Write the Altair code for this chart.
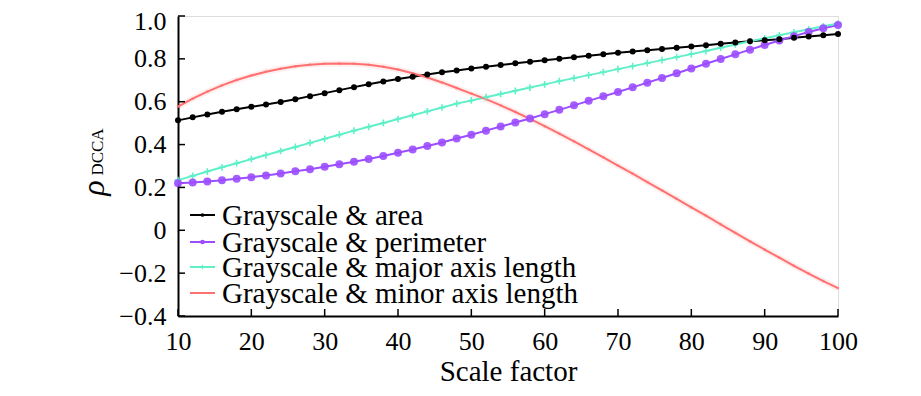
import altair as alt
import pandas as pd

# ---- data ----
scale_factor = list(range(10, 101, 2))

area = [0.513, 0.527, 0.540, 0.553, 0.565, 0.576, 0.587, 0.599, 0.612, 0.626,
        0.640, 0.654, 0.668, 0.681, 0.694, 0.706, 0.717, 0.727, 0.737, 0.746,
        0.755, 0.763, 0.771, 0.779, 0.786, 0.793, 0.800, 0.807, 0.814, 0.821,
        0.828, 0.834, 0.840, 0.846, 0.852, 0.858, 0.864, 0.870, 0.876, 0.882,
        0.887, 0.892, 0.898, 0.904, 0.910, 0.916]

perimeter = [0.219, 0.223, 0.228, 0.234, 0.241, 0.248, 0.256, 0.265, 0.275, 0.285,
             0.296, 0.308, 0.320, 0.333, 0.347, 0.362, 0.377, 0.393, 0.410, 0.428,
             0.446, 0.465, 0.484, 0.503, 0.522, 0.542, 0.562, 0.583, 0.604, 0.625,
             0.645, 0.667, 0.689, 0.711, 0.733, 0.755, 0.777, 0.799, 0.821, 0.843,
             0.865, 0.886, 0.906, 0.925, 0.943, 0.958]

major_axis = [0.234, 0.254, 0.274, 0.294, 0.313, 0.332, 0.351, 0.370, 0.389, 0.408,
              0.427, 0.446, 0.465, 0.483, 0.501, 0.519, 0.537, 0.555, 0.573, 0.591,
              0.606, 0.621, 0.636, 0.651, 0.666, 0.681, 0.696, 0.710, 0.724, 0.738,
              0.752, 0.766, 0.780, 0.794, 0.808, 0.822, 0.837, 0.852, 0.867, 0.882,
              0.896, 0.910, 0.924, 0.938, 0.952, 0.965]

minor_axis = [0.577, 0.614, 0.647, 0.676, 0.701, 0.722, 0.740, 0.754, 0.765, 0.773,
              0.777, 0.778, 0.777, 0.772, 0.763, 0.750, 0.733, 0.713, 0.690, 0.664,
              0.638, 0.612, 0.583, 0.552, 0.520, 0.486, 0.451, 0.415, 0.378, 0.340,
              0.302, 0.264, 0.225, 0.186, 0.147, 0.107, 0.068, 0.028, -0.012, -0.052,
              -0.090, -0.128, -0.166, -0.202, -0.237, -0.270]

series_names = ["Grayscale & area", "Grayscale & perimeter",
                "Grayscale & major axis length", "Grayscale & minor axis length"]
series_colors = ["#000000", "#9b4dff", "#5ff0c8", "#ff7070"]

x_ticks = [10, 20, 30, 40, 50, 60, 70, 80, 90, 100]
y_ticks = [-0.4, -0.2, 0, 0.2, 0.4, 0.6, 0.8, 1.0]

# ---- tables ----
rows = []
for name, vals in zip(series_names, [area, perimeter, major_axis, minor_axis]):
    for s, v in zip(scale_factor, vals):
        rows.append({"scale": s, "rho": v, "series": name})
df = pd.DataFrame(rows)

FONT = "Liberation Serif"

X = alt.X("scale:Q",
          scale=alt.Scale(domain=[10, 100], nice=False, zero=False),
          axis=alt.Axis(values=x_ticks, title="Scale factor", ticks=False,
                        labelFont=FONT, labelFontSize=26, labelColor="black",
                        labelPadding=12, labelFlush=False,
                        titleFont=FONT, titleFontSize=29, titleFontWeight="normal",
                        titleColor="black", titlePadding=3,
                        domainColor="black", domainWidth=2, grid=False))
Y = alt.Y("rho:Q",
          scale=alt.Scale(domain=[-0.4, 1.0], nice=False, zero=False),
          axis=alt.Axis(values=y_ticks, title=None, ticks=False,
                        labelExpr="datum.value == 0 ? '0' : replace(format(datum.value, '.1f'), '-', '\u2212')",
                        labelFont=FONT, labelFontSize=26, labelColor="black",
                        labelPadding=12, labelFlush=False,
                        labelOffset={"condition": {"test": "datum.value == 1", "value": 5}, "value": 0},
                        domainColor="black", domainWidth=2, grid=False))

color_enc = alt.Color("series:N",
                      scale=alt.Scale(domain=series_names, range=series_colors),
                      legend=None)

base = alt.Chart(df)

red_halo = base.transform_filter(
    alt.datum.series == series_names[3]
).mark_line(strokeWidth=6, opacity=0.12, color=series_colors[3]).encode(x=X, y=Y)

lines = base.mark_line(strokeWidth=2).encode(
    x=X, y=Y, color=color_enc,
    order=alt.Order("scale:Q"))

red_pts = base.transform_filter(alt.datum.series == series_names[3]).mark_point(
    shape="square", filled=True, size=6, color=series_colors[3], opacity=0.6
).encode(x=X, y=Y)

cyan_pts = base.transform_filter(alt.datum.series == series_names[2]).mark_point(
    shape="M-1,0L1,0M0,-1L0,1", filled=False, size=45, strokeWidth=1.6,
    color=series_colors[2], opacity=1
).encode(x=X, y=Y)

purple_pts = base.transform_filter(alt.datum.series == series_names[1]).mark_point(
    shape="circle", filled=True, size=64, color=series_colors[1], opacity=0.9
).encode(x=X, y=Y)

black_pts = base.transform_filter(alt.datum.series == series_names[0]).mark_point(
    shape="circle", filled=True, size=36, color="black", opacity=1
).encode(x=X, y=Y)

# inward tick marks
xtick_df = pd.DataFrame({"scale": x_ticks})
ytick_df = pd.DataFrame({"rho": y_ticks})
xticks = alt.Chart(xtick_df).mark_rule(color="black", strokeWidth=1.5).encode(
    x=X, y=alt.value(300), y2=alt.value(293))
yticks = alt.Chart(ytick_df).mark_rule(color="black", strokeWidth=1.5).encode(
    y=Y, x=alt.value(0), x2=alt.value(7))

# y-axis title: rho with subscript DCCA
rho_txt = alt.Chart(pd.DataFrame({"t": ["\u03c1"]})).mark_text(
    font=FONT, fontStyle="italic", fontSize=32, angle=270,
    align="center", baseline="middle", color="black"
).encode(x=alt.value(-84), y=alt.value(172), text="t:N")
sub_txt = alt.Chart(pd.DataFrame({"t": ["DCCA"]})).mark_text(
    font=FONT, fontSize=17, angle=270,
    align="center", baseline="middle", color="black"
).encode(x=alt.value(-80), y=alt.value(136), text="t:N")

# hand-built legend (inside the plot, lower left)
legend_layers = []
legend_marker = [
    dict(shape="circle", filled=True, size=14),
    dict(shape="circle", filled=True, size=22),
    dict(shape="M-1,0L1,0M0,-1L0,1", filled=False, size=20, strokeWidth=1.2),
    dict(shape="square", filled=True, size=4),
]
row_y = [199, 226, 251, 277]
for i, name in enumerate(series_names):
    ldf = pd.DataFrame({"t": [name]})
    legend_layers.append(
        alt.Chart(ldf).mark_rule(color=series_colors[i], strokeWidth=2).encode(
            x=alt.value(12), x2=alt.value(37), y=alt.value(row_y[i])))
    legend_layers.append(
        alt.Chart(ldf).mark_point(color=series_colors[i], opacity=1,
                                  **legend_marker[i]).encode(
            x=alt.value(24.5), y=alt.value(row_y[i])))
    legend_layers.append(
        alt.Chart(ldf).mark_text(font=FONT, fontSize=29, color="black",
                                 align="left", baseline="middle").encode(
            x=alt.value(44), y=alt.value(row_y[i] + 1), text="t:N"))

chart = alt.layer(
    red_halo, lines, red_pts, cyan_pts, purple_pts, black_pts,
    xticks, yticks, rho_txt, sub_txt, *legend_layers
).properties(
    width=660, height=300,
    autosize=alt.AutoSizeParams(type="none"),
    padding={"left": 170, "top": 8, "right": 75, "bottom": 72},
).configure_view(
    stroke="black", strokeWidth=2
).configure(background="white")

chart.save("out.html", embed_options={"renderer": "svg", "actions": False})
